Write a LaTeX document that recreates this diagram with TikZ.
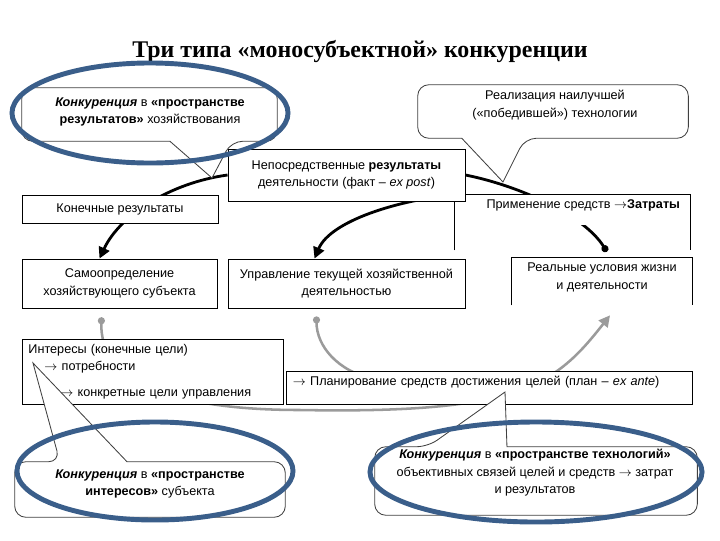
\documentclass[tikz,border=0pt]{standalone}
\usepackage{fontspec}
\setmainfont{Liberation Serif}
\setsansfont{Liberation Sans}
\usepackage{tikz}
\usetikzlibrary{arrows.meta, positioning, calc, backgrounds}
\usepackage{xcolor}
\definecolor{sinij}{RGB}{58, 94, 138}
\definecolor{serij}{RGB}{155, 155, 155}

\begin{document}
\begin{tikzpicture}[
    x=0.025cm, y=-0.025cm,
    blok/.style={
        draw,
        line width=0.6pt,
        fill=white,
        align=center,
        inner sep=2pt,
        font=\sffamily\fontsize{9}{12.5}\selectfont
    },
    otkryt/.style={
        fill=white,
        inner sep=0pt
    },
    tekst/.style={
        align=center,
        inner sep=2pt,
        font=\sffamily\fontsize{9}{12.5}\selectfont
    },
    oblast/.style={
        inner sep=0pt
    },
    vynoska/.style={
        draw=black!75,
        line width=0.6pt,
        fill=white
    },
    strelka/.style={
        line width=2pt,
        -{Triangle[length=8pt, width=8pt]}
    },
    tochka/.style={
        line width=2pt,
        -{Circle[length=5pt]}
    },
    seraja/.style={
        line width=1.8pt,
        serij,
        {Circle[length=5pt]}-{Triangle[length=8pt, width=8pt]}
    },
    sinijoval/.style={
        draw=sinij,
        line width=3.5pt
    }
]
\useasboundingbox (0,0) rectangle (720,540);

\node[font=\bfseries\fontsize{17}{19}\selectfont] (zagolovok) at (360,52)
{Три типа «моносубъектной» конкуренции};

% vtoroj rjad sleva napravo
\node[otkryt, minimum width=5.875cm, minimum height=0.75cm] (prim) at (572.5,210) {};
\draw[line width=0.6pt] (prim.south west) ++(0,25) -- (prim.north west) -- (prim.north east) -- ++(0,55);
\node[tekst, below=0.5mm of prim.north, xshift=0.27cm] (primtekst)
{Применение средств $\rightarrow$\textbf{Затраты}};

\node[blok, minimum width=5.925cm, minimum height=1.3cm] (nep) at (346.5,175)
{Непосредственные \textbf{результаты}\\
деятельности (факт -- \textit{ex post})};

\node[blok, minimum width=4.9cm, minimum height=0.7cm] (kon) at (120,209)
{Конечные результаты};

\node[blok, minimum width=4.875cm, minimum height=1.225cm] (samo) at (119.5,283.5)
{Самоопределение\\
хозяйствующего субъекта};

\node[blok, minimum width=5.925cm, minimum height=1.225cm] (upr) at (346.5,283.5)
{Управление текущей хозяйственной\\
деятельностью};

\node[otkryt, minimum width=4.5cm, minimum height=1.175cm] (real) at (602,281.5) {};
\draw[line width=0.6pt] (real.south west) -- (real.north west) -- (real.north east) -- (real.south east);
\node[tekst, below=0.5mm of real.north] (realtekst)
{Реальные условия жизни\\
и деятельности};

\node[blok, minimum width=6.525cm, minimum height=1.625cm, text width=6.2cm, align=left] (inter) at (152.5,371.5)
{Интересы (конечные цели)\\
\hspace*{0.4cm}$\rightarrow$ потребности\\[2mm]
\hspace*{0.8cm}$\rightarrow$ конкретные цели управления};

\node[blok, minimum width=10.15cm, minimum height=0.825cm, text width=9.8cm, align=left, text depth=0.32cm] (plan) at (489,387.5)
{$\rightarrow$ Планирование средств достижения целей (план -- \textit{ex ante})};

\coordinate (izgib) at (300,410);
\coordinate (planvhod) at (373,379);

\begin{scope}[on background layer]
\draw[strelka] (nep.west) .. controls +(-58,8) and +(20,-43) .. ([xshift=-0.5cm]samo.north);
\draw[tochka] (nep.east) .. controls +(55,11) and +(-22,-36) .. ([xshift=0.12cm, yshift=0.15cm]real.north);
\draw[strelka] (prim.north west) .. controls +(-55,5) and +(16,-38) .. ([xshift=-0.8cm]upr.north);
\draw[seraja] ([xshift=-0.45cm, yshift=-0.22cm]samo.south) .. controls +(-2,63) and +(-130,0) .. (izgib)
    .. controls +(220,4) and +(-55,70) .. ([xshift=0.2cm, yshift=-0.25cm]real.south);
\draw[serij, line width=1.8pt, {Circle[length=5pt]}-] ([xshift=-0.75cm, yshift=-0.2cm]upr.south) .. controls +(0,30) and +(-35,-8) .. (planvhod);
\end{scope}

% vynoski
\node[oblast, minimum width=6.375cm, minimum height=1.325cm] (c1) at (149.5,114.5) {};
\coordinate (ostrie1) at (212,178);
\draw[vynoska] (c1.west) [rounded corners=8pt] -- (c1.north west) -- (c1.north east) -- (c1.south east)
    -- ($(c1.south west)!0.82!(c1.south east)$) [sharp corners] -- (ostrie1)
    -- ($(c1.south west)!0.58!(c1.south east)$) [rounded corners=8pt] -- (c1.south west) -- cycle;
\node[tekst] (c1tekst) at (150,112)
{\textbf{\textit{Конкуренция}} в \textbf{«пространстве}\\
\textbf{результатов»} хозяйствования};

\node[oblast, minimum width=6.75cm, minimum height=1.325cm] (c2) at (553,111.5) {};
\coordinate (ostrie2) at (503,182);
\draw[vynoska] (c2.west) [rounded corners=8pt] -- (c2.north west) -- (c2.north east) -- (c2.south east)
    -- ($(c2.south west)!0.396!(c2.south east)$) [sharp corners] -- (ostrie2)
    -- ($(c2.south west)!0.163!(c2.south east)$) [rounded corners=8pt] -- (c2.south west) -- cycle;
\node[tekst] (c2tekst) at (555,105)
{Реализация наилучшей\\
(«победившей») технологии};

\node[oblast, minimum width=6.75cm, minimum height=1.375cm] (c3) at (150,489.5) {};
\coordinate (ostrie3) at (33,363);
\draw[vynoska] (c3.west) [rounded corners=8pt] -- (c3.north west)
    -- ($(c3.north west)!0.167!(c3.north east)$) [sharp corners] -- (ostrie3)
    -- ($(c3.north west)!0.415!(c3.north east)$) [rounded corners=8pt] -- (c3.north east)
    -- (c3.south east) -- (c3.south west) -- cycle;
\node[tekst] (c3tekst) at (150,484)
{\textbf{\textit{Конкуренция}} в \textbf{«пространстве}\\
\textbf{интересов»} субъекта};

\node[oblast, minimum width=8.05cm, minimum height=1.7cm] (c4) at (536,481) {};
\coordinate (ostrie4) at (505,392);
\draw[vynoska] (c4.west) [rounded corners=8pt] -- (c4.north west)
    -- ($(c4.north west)!0.165!(c4.north east)$) [sharp corners] -- (ostrie4)
    -- ($(c4.north west)!0.41!(c4.north east)$) [rounded corners=8pt] -- (c4.north east)
    -- (c4.south east) -- (c4.south west) -- cycle;
\node[tekst] (c4tekst) at (535,473)
{\textbf{\textit{Конкуренция}} в \textbf{«пространстве технологий»}\\
объективных связей целей и средств $\rightarrow$ затрат\\
и результатов};

% ovaly
\draw[sinijoval] (150,113) ellipse [x radius=3.45cm, y radius=1.25cm];
\draw[sinijoval] (155,471) ellipse [x radius=3.45cm, y radius=1.225cm];
\draw[sinijoval] (536,472) ellipse [x radius=4.15cm, y radius=1.25cm];

\end{tikzpicture}
\end{document}
